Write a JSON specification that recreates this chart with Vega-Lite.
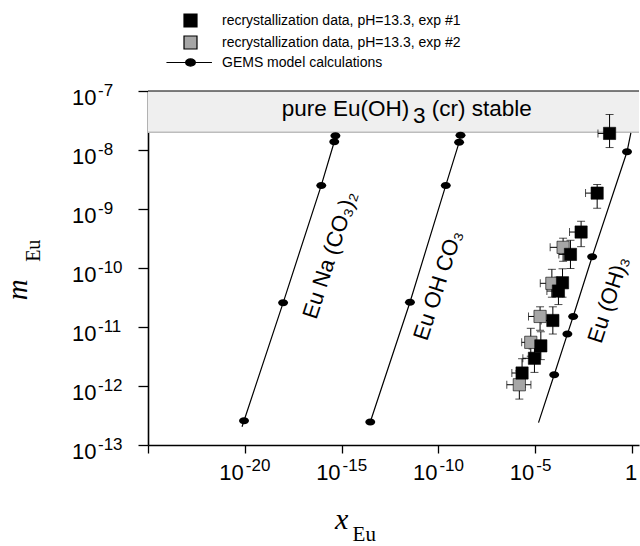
{
  "$schema": "https://vega.github.io/schema/vega-lite/v6.json",
  "width": 491,
  "height": 354,
  "autosize": "none",
  "padding": {"left": 148, "top": 91, "right": 1, "bottom": 101},
  "background": "white",
  "config": {
    "view": {"stroke": null},
    "font": "Liberation Sans",
    "axis": {"domainColor": "black", "domainWidth": 1.6, "tickColor": "black", "tickWidth": 1.3, "labels": false, "grid": false, "zindex": 1, "title": null},
    "axisX": {"tickSize": 8},
    "axisY": {"tickSize": 10}
  },
  "datasets": {
    "band": [{"lo": 2e-8, "hi": 1e-7}],
    "gemsLine": [
      {"phase": "Eu Na (CO3)2", "x": 7.2e-21, "y": 2.04e-13},
      {"phase": "Eu Na (CO3)2", "x": 9.1e-21, "y": 2.57e-13},
      {"phase": "Eu Na (CO3)2", "x": 9.5e-19, "y": 2.57e-11},
      {"phase": "Eu Na (CO3)2", "x": 8.9e-17, "y": 2.51e-9},
      {"phase": "Eu Na (CO3)2", "x": 4.17e-16, "y": 1.38e-8},
      {"phase": "Eu Na (CO3)2", "x": 4.79e-16, "y": 1.74e-8},
      {"phase": "Eu OH CO3", "x": 3.02e-14, "y": 2.45e-13},
      {"phase": "Eu OH CO3", "x": 3.39e-12, "y": 2.63e-11},
      {"phase": "Eu OH CO3", "x": 2.40e-10, "y": 2.51e-9},
      {"phase": "Eu OH CO3", "x": 1.17e-9, "y": 1.35e-8},
      {"phase": "Eu OH CO3", "x": 1.38e-9, "y": 1.78e-8},
      {"phase": "Eu (OH)3", "x": 1.48e-5, "y": 2.40e-13},
      {"phase": "Eu (OH)3", "x": 9.55e-5, "y": 1.55e-12},
      {"phase": "Eu (OH)3", "x": 4.57e-4, "y": 7.59e-12},
      {"phase": "Eu (OH)3", "x": 9.12e-4, "y": 1.51e-11},
      {"phase": "Eu (OH)3", "x": 8.71e-3, "y": 1.55e-10},
      {"phase": "Eu (OH)3", "x": 0.55, "y": 9.33e-9},
      {"phase": "Eu (OH)3", "x": 0.87, "y": 1.95e-8}
    ],
    "gemsDots": [
      {"phase": "Eu Na (CO3)2", "x": 9.1e-21, "y": 2.57e-13},
      {"phase": "Eu Na (CO3)2", "x": 9.5e-19, "y": 2.57e-11},
      {"phase": "Eu Na (CO3)2", "x": 8.9e-17, "y": 2.51e-9},
      {"phase": "Eu Na (CO3)2", "x": 4.17e-16, "y": 1.38e-8},
      {"phase": "Eu Na (CO3)2", "x": 4.79e-16, "y": 1.74e-8},
      {"phase": "Eu OH CO3", "x": 3.02e-14, "y": 2.45e-13},
      {"phase": "Eu OH CO3", "x": 3.39e-12, "y": 2.63e-11},
      {"phase": "Eu OH CO3", "x": 2.40e-10, "y": 2.51e-9},
      {"phase": "Eu OH CO3", "x": 1.17e-9, "y": 1.35e-8},
      {"phase": "Eu OH CO3", "x": 1.38e-9, "y": 1.78e-8},
      {"phase": "Eu (OH)3", "x": 9.55e-5, "y": 1.55e-12},
      {"phase": "Eu (OH)3", "x": 4.57e-4, "y": 7.59e-12},
      {"phase": "Eu (OH)3", "x": 9.12e-4, "y": 1.51e-11},
      {"phase": "Eu (OH)3", "x": 8.71e-3, "y": 1.55e-10},
      {"phase": "Eu (OH)3", "x": 0.55, "y": 9.33e-9}
    ],
    "exp": [
      {"series": "recrystallization data, pH=13.3, exp #2", "x": 2.75e-4, "y": 2.24e-10, "xlo": 5.9e-5, "xhi": 4.1e-4, "ylo": 1.3e-10, "yhi": 3.2e-10},
      {"series": "recrystallization data, pH=13.3, exp #2", "x": 7.24e-5, "y": 5.5e-11, "xlo": 1.82e-5, "xhi": 1.1e-4, "ylo": 3.2e-11, "yhi": 9.5e-11},
      {"series": "recrystallization data, pH=13.3, exp #2", "x": 1.78e-5, "y": 1.51e-11, "xlo": 4.5e-6, "xhi": 2.7e-5, "ylo": 8.8e-12, "yhi": 2.2e-11},
      {"series": "recrystallization data, pH=13.3, exp #2", "x": 5.89e-6, "y": 5.5e-12, "xlo": 2.0e-6, "xhi": 8.8e-6, "ylo": 3.2e-12, "yhi": 9.5e-12},
      {"series": "recrystallization data, pH=13.3, exp #2", "x": 1.51e-6, "y": 1.05e-12, "xlo": 3.4e-7, "xhi": 6.0e-6, "ylo": 6.0e-13, "yhi": 1.8e-12},
      {"series": "recrystallization data, pH=13.3, exp #1", "x": 0.0692, "y": 1.91e-8, "xlo": 0.0174, "xhi": 0.104, "ylo": 1.1e-8, "yhi": 4.0e-8},
      {"series": "recrystallization data, pH=13.3, exp #1", "x": 0.0158, "y": 1.86e-9, "xlo": 3.97e-3, "xhi": 0.0237, "ylo": 1.03e-9, "yhi": 2.6e-9},
      {"series": "recrystallization data, pH=13.3, exp #1", "x": 2.34e-3, "y": 4.07e-10, "xlo": 5.9e-4, "xhi": 3.5e-3, "ylo": 2.3e-10, "yhi": 6.2e-10},
      {"series": "recrystallization data, pH=13.3, exp #1", "x": 6.61e-4, "y": 1.70e-10, "xlo": 1.66e-4, "xhi": 9.9e-4, "ylo": 9.8e-11, "yhi": 2.95e-10},
      {"series": "recrystallization data, pH=13.3, exp #1", "x": 2.57e-4, "y": 5.62e-11, "xlo": 6.5e-5, "xhi": 3.9e-4, "ylo": 3.2e-11, "yhi": 9.7e-11},
      {"series": "recrystallization data, pH=13.3, exp #1", "x": 1.58e-4, "y": 4.07e-11, "xlo": 4.0e-5, "xhi": 2.4e-4, "ylo": 2.4e-11, "yhi": 7.0e-11},
      {"series": "recrystallization data, pH=13.3, exp #1", "x": 8.13e-5, "y": 1.29e-11, "xlo": 2.04e-5, "xhi": 1.2e-4, "ylo": 7.6e-12, "yhi": 2.2e-11},
      {"series": "recrystallization data, pH=13.3, exp #1", "x": 1.95e-5, "y": 4.79e-12, "xlo": 4.9e-6, "xhi": 2.9e-5, "ylo": 2.8e-12, "yhi": 8.3e-12},
      {"series": "recrystallization data, pH=13.3, exp #1", "x": 9.12e-6, "y": 2.95e-12, "xlo": 2.3e-6, "xhi": 1.4e-5, "ylo": 1.7e-12, "yhi": 5.1e-12},
      {"series": "recrystallization data, pH=13.3, exp #1", "x": 2.09e-6, "y": 1.66e-12, "xlo": 6.2e-7, "xhi": 3.1e-6, "ylo": 9.6e-13, "yhi": 2.9e-12}
    ],
    "lineLabels": [
      {"label": "Eu Na (CO₃)₂", "x": 2.5e-16, "y": 1.66e-10},
      {"label": "Eu OH CO₃", "x": 9.5e-11, "y": 5.1e-11},
      {"label": "Eu (OH)₃", "x": 0.06, "y": 2.9e-11}
    ],
    "bandLabel": [
      {"label": "pure Eu(OH)", "x": 8e-19, "y": 3.84e-8},
      {"label": "3", "x": 4.9e-12, "y": 2.88e-8},
      {"label": "(cr) stable", "x": 4.5e-11, "y": 3.84e-8}
    ],
    "xticks": [
      {"v": 1e-20, "b": "10", "e": "-20"},
      {"v": 1e-15, "b": "10", "e": "-15"},
      {"v": 1e-10, "b": "10", "e": "-10"},
      {"v": 1e-5, "b": "10", "e": "-5"},
      {"v": 1, "b": "1", "e": ""}
    ],
    "yticks": [
      {"v": 1e-7, "e": "-7"},
      {"v": 1e-8, "e": "-8"},
      {"v": 1e-9, "e": "-9"},
      {"v": 1e-10, "e": "-10"},
      {"v": 1e-11, "e": "-11"},
      {"v": 1e-12, "e": "-12"},
      {"v": 1e-13, "e": "-13"}
    ]
  },
  "layer": [
    {
      "data": {"name": "band"},
      "mark": {"type": "rect", "fill": "#efefef"},
      "encoding": {
        "y": {"field": "lo", "type": "quantitative", "title": null, "scale": {"type": "log", "domain": [1e-13, 1e-7], "nice": false}, "axis": {"values": [1e-13, 1e-12, 1e-11, 1e-10, 1e-9, 1e-8, 1e-7]}},
        "y2": {"field": "hi"}
      }
    },
    {
      "data": {"name": "band"},
      "mark": {"type": "rule", "color": "#bdbdbd", "strokeWidth": 1.5},
      "encoding": {
        "y": {"field": "lo", "type": "quantitative", "title": null, "scale": {"type": "log", "domain": [1e-13, 1e-7], "nice": false}, "axis": {"values": [1e-13, 1e-12, 1e-11, 1e-10, 1e-9, 1e-8, 1e-7]}}
      }
    },
    {
      "data": {"name": "band"},
      "mark": {"type": "rule", "color": "black", "strokeWidth": 1.2},
      "encoding": {
        "y": {"field": "hi", "type": "quantitative", "title": null, "scale": {"type": "log", "domain": [1e-13, 1e-7], "nice": false}, "axis": {"values": [1e-13, 1e-12, 1e-11, 1e-10, 1e-9, 1e-8, 1e-7]}}
      }
    },
    {
      "data": {"name": "gemsLine"},
      "mark": {"type": "line", "color": "black", "strokeWidth": 1.2},
      "encoding": {
        "x": {"field": "x", "type": "quantitative", "title": null, "scale": {"type": "log", "domain": [1e-25, 2.29], "nice": false}, "axis": {"values": [1e-25, 1e-20, 1e-15, 1e-10, 1e-5, 1]}},
        "y": {"field": "y", "type": "quantitative", "title": null, "scale": {"type": "log", "domain": [1e-13, 1e-7], "nice": false}, "axis": {"values": [1e-13, 1e-12, 1e-11, 1e-10, 1e-9, 1e-8, 1e-7]}},
        "detail": {"field": "phase"}
      }
    },
    {
      "data": {"name": "gemsDots"},
      "mark": {"type": "point", "shape": "M-1,0A1,0.7,0,1,0,1,0A1,0.7,0,1,0,-1,0Z", "filled": true, "color": "black", "opacity": 1, "size": 100},
      "encoding": {
        "x": {"field": "x", "type": "quantitative", "title": null, "scale": {"type": "log", "domain": [1e-25, 2.29], "nice": false}, "axis": {"values": [1e-25, 1e-20, 1e-15, 1e-10, 1e-5, 1]}},
        "y": {"field": "y", "type": "quantitative", "title": null, "scale": {"type": "log", "domain": [1e-13, 1e-7], "nice": false}, "axis": {"values": [1e-13, 1e-12, 1e-11, 1e-10, 1e-9, 1e-8, 1e-7]}}
      }
    },
    {
      "data": {"name": "exp"},
      "mark": {"type": "errorbar", "ticks": {"size": 8}, "color": "black"},
      "encoding": {
        "x": {"field": "xlo", "type": "quantitative", "title": null, "scale": {"type": "log", "domain": [1e-25, 2.29], "nice": false}, "axis": {"values": [1e-25, 1e-20, 1e-15, 1e-10, 1e-5, 1], "title": null}},
        "x2": {"field": "xhi"},
        "y": {"field": "y", "type": "quantitative", "title": null, "scale": {"type": "log", "domain": [1e-13, 1e-7], "nice": false}, "axis": {"values": [1e-13, 1e-12, 1e-11, 1e-10, 1e-9, 1e-8, 1e-7], "title": null}}
      }
    },
    {
      "data": {"name": "exp"},
      "mark": {"type": "errorbar", "ticks": {"size": 8}, "color": "black"},
      "encoding": {
        "y": {"field": "ylo", "type": "quantitative", "title": null, "scale": {"type": "log", "domain": [1e-13, 1e-7], "nice": false}, "axis": {"values": [1e-13, 1e-12, 1e-11, 1e-10, 1e-9, 1e-8, 1e-7], "title": null}},
        "y2": {"field": "yhi"},
        "x": {"field": "x", "type": "quantitative", "title": null, "scale": {"type": "log", "domain": [1e-25, 2.29], "nice": false}, "axis": {"values": [1e-25, 1e-20, 1e-15, 1e-10, 1e-5, 1], "title": null}}
      }
    },
    {
      "data": {"name": "exp"},
      "mark": {"type": "point", "filled": true, "opacity": 1, "size": 150, "stroke": "black", "strokeWidth": 0.6},
      "encoding": {
        "x": {"field": "x", "type": "quantitative", "title": null, "scale": {"type": "log", "domain": [1e-25, 2.29], "nice": false}, "axis": {"values": [1e-25, 1e-20, 1e-15, 1e-10, 1e-5, 1]}},
        "y": {"field": "y", "type": "quantitative", "title": null, "scale": {"type": "log", "domain": [1e-13, 1e-7], "nice": false}, "axis": {"values": [1e-13, 1e-12, 1e-11, 1e-10, 1e-9, 1e-8, 1e-7]}},
        "color": {
          "field": "series", "type": "nominal",
          "scale": {"domain": ["recrystallization data, pH=13.3, exp #1", "recrystallization data, pH=13.3, exp #2", "GEMS model calculations"], "range": ["#000000", "#a6a6a6", "#000000"]},
          "legend": {"title": null, "orient": "none", "legendX": 35, "legendY": -78, "padding": 0, "symbolSize": 169, "symbolStrokeColor": "black", "symbolStrokeWidth": 1.2, "labelFont": "Liberation Sans", "labelFontSize": 14, "labelColor": "black", "labelOffset": 24, "rowPadding": 3, "labelLimit": 400}
        },
        "shape": {
          "field": "series", "type": "nominal",
          "scale": {"domain": ["recrystallization data, pH=13.3, exp #1", "recrystallization data, pH=13.3, exp #2", "GEMS model calculations"], "range": ["square", "square", "M-3.7,0H3.3M-0.75,0A0.75,0.55,0,1,0,0.75,0A0.75,0.55,0,1,0,-0.75,0Z"]},
          "legend": {"title": null, "orient": "none", "legendX": 35, "legendY": -78, "padding": 0, "symbolSize": 169, "symbolStrokeColor": "black", "symbolStrokeWidth": 1.2, "labelFont": "Liberation Sans", "labelFontSize": 14, "labelColor": "black", "labelOffset": 24, "rowPadding": 3, "labelLimit": 400}
        }
      }
    },
    {
      "data": {"name": "lineLabels"},
      "mark": {"type": "text", "angle": 288, "align": "center", "baseline": "middle", "fontSize": 22, "font": "Liberation Sans", "color": "black"},
      "encoding": {
        "x": {"field": "x", "type": "quantitative", "title": null, "scale": {"type": "log", "domain": [1e-25, 2.29], "nice": false}, "axis": {"values": [1e-25, 1e-20, 1e-15, 1e-10, 1e-5, 1]}},
        "y": {"field": "y", "type": "quantitative", "title": null, "scale": {"type": "log", "domain": [1e-13, 1e-7], "nice": false}, "axis": {"values": [1e-13, 1e-12, 1e-11, 1e-10, 1e-9, 1e-8, 1e-7]}},
        "text": {"field": "label"}
      }
    },
    {
      "data": {"name": "bandLabel"},
      "mark": {"type": "text", "align": "left", "baseline": "alphabetic", "fontSize": 22.5, "font": "Liberation Sans", "color": "black"},
      "encoding": {
        "x": {"field": "x", "type": "quantitative", "title": null, "scale": {"type": "log", "domain": [1e-25, 2.29], "nice": false}, "axis": {"values": [1e-25, 1e-20, 1e-15, 1e-10, 1e-5, 1]}},
        "y": {"field": "y", "type": "quantitative", "title": null, "scale": {"type": "log", "domain": [1e-13, 1e-7], "nice": false}, "axis": {"values": [1e-13, 1e-12, 1e-11, 1e-10, 1e-9, 1e-8, 1e-7]}},
        "text": {"field": "label"}
      }
    },
    {
      "data": {"name": "xticks"},
      "transform": [{"filter": "datum.b == '10'"}],
      "mark": {"type": "text", "align": "right", "baseline": "alphabetic", "dx": -1, "dy": 35, "fontSize": 22, "font": "Liberation Sans", "color": "black"},
      "encoding": {
        "x": {"field": "v", "type": "quantitative", "title": null, "scale": {"type": "log", "domain": [1e-25, 2.29], "nice": false}, "axis": {"values": [1e-25, 1e-20, 1e-15, 1e-10, 1e-5, 1]}},
        "y": {"datum": 1e-13, "type": "quantitative", "title": null, "scale": {"type": "log", "domain": [1e-13, 1e-7], "nice": false}, "axis": {"values": [1e-13, 1e-12, 1e-11, 1e-10, 1e-9, 1e-8, 1e-7]}},
        "text": {"field": "b"}
      }
    },
    {
      "data": {"name": "xticks"},
      "transform": [{"filter": "datum.b == '1'"}],
      "mark": {"type": "text", "align": "center", "baseline": "alphabetic", "dx": -1, "dy": 35, "fontSize": 22, "font": "Liberation Sans", "color": "black"},
      "encoding": {
        "x": {"field": "v", "type": "quantitative", "title": null, "scale": {"type": "log", "domain": [1e-25, 2.29], "nice": false}, "axis": {"values": [1e-25, 1e-20, 1e-15, 1e-10, 1e-5, 1]}},
        "y": {"datum": 1e-13, "type": "quantitative", "title": null, "scale": {"type": "log", "domain": [1e-13, 1e-7], "nice": false}, "axis": {"values": [1e-13, 1e-12, 1e-11, 1e-10, 1e-9, 1e-8, 1e-7]}},
        "text": {"field": "b"}
      }
    },
    {
      "data": {"name": "xticks"},
      "mark": {"type": "text", "align": "left", "baseline": "alphabetic", "dx": 1, "dy": 26, "fontSize": 17, "font": "Liberation Sans", "color": "black"},
      "encoding": {
        "x": {"field": "v", "type": "quantitative", "title": null, "scale": {"type": "log", "domain": [1e-25, 2.29], "nice": false}, "axis": {"values": [1e-25, 1e-20, 1e-15, 1e-10, 1e-5, 1]}},
        "y": {"datum": 1e-13, "type": "quantitative", "title": null, "scale": {"type": "log", "domain": [1e-13, 1e-7], "nice": false}, "axis": {"values": [1e-13, 1e-12, 1e-11, 1e-10, 1e-9, 1e-8, 1e-7]}},
        "text": {"field": "e"}
      }
    },
    {
      "data": {"name": "yticks"},
      "mark": {"type": "text", "align": "left", "baseline": "alphabetic", "dx": -76, "dy": 14, "fontSize": 22, "font": "Liberation Sans", "color": "black"},
      "encoding": {
        "x": {"datum": 1e-25, "type": "quantitative", "title": null, "scale": {"type": "log", "domain": [1e-25, 2.29], "nice": false}, "axis": {"values": [1e-25, 1e-20, 1e-15, 1e-10, 1e-5, 1]}},
        "y": {"field": "v", "type": "quantitative", "title": null, "scale": {"type": "log", "domain": [1e-13, 1e-7], "nice": false}, "axis": {"values": [1e-13, 1e-12, 1e-11, 1e-10, 1e-9, 1e-8, 1e-7]}},
        "text": {"value": "10"}
      }
    },
    {
      "data": {"name": "yticks"},
      "mark": {"type": "text", "align": "left", "baseline": "alphabetic", "dx": -50, "dy": 5, "fontSize": 17, "font": "Liberation Sans", "color": "black"},
      "encoding": {
        "x": {"datum": 1e-25, "type": "quantitative", "title": null, "scale": {"type": "log", "domain": [1e-25, 2.29], "nice": false}, "axis": {"values": [1e-25, 1e-20, 1e-15, 1e-10, 1e-5, 1]}},
        "y": {"field": "v", "type": "quantitative", "title": null, "scale": {"type": "log", "domain": [1e-13, 1e-7], "nice": false}, "axis": {"values": [1e-13, 1e-12, 1e-11, 1e-10, 1e-9, 1e-8, 1e-7]}},
        "text": {"field": "e"}
      }
    },
    {
      "data": {"values": [{"t": "x", "v": 1e-15}]},
      "mark": {"type": "text", "align": "center", "baseline": "alphabetic", "dy": 84, "fontSize": 30, "font": "Liberation Serif", "fontStyle": "italic", "color": "black"},
      "encoding": {
        "x": {"field": "v", "type": "quantitative", "title": null, "scale": {"type": "log", "domain": [1e-25, 2.29], "nice": false}, "axis": {"values": [1e-25, 1e-20, 1e-15, 1e-10, 1e-5, 1]}},
        "y": {"datum": 1e-13, "type": "quantitative", "title": null, "scale": {"type": "log", "domain": [1e-13, 1e-7], "nice": false}, "axis": {"values": [1e-13, 1e-12, 1e-11, 1e-10, 1e-9, 1e-8, 1e-7]}},
        "text": {"field": "t"}
      }
    },
    {
      "data": {"values": [{"t": "Eu", "v": 1e-15}]},
      "mark": {"type": "text", "align": "left", "baseline": "alphabetic", "dx": 11, "dy": 96, "fontSize": 21, "font": "Liberation Serif", "color": "black"},
      "encoding": {
        "x": {"field": "v", "type": "quantitative", "title": null, "scale": {"type": "log", "domain": [1e-25, 2.29], "nice": false}, "axis": {"values": [1e-25, 1e-20, 1e-15, 1e-10, 1e-5, 1]}},
        "y": {"datum": 1e-13, "type": "quantitative", "title": null, "scale": {"type": "log", "domain": [1e-13, 1e-7], "nice": false}, "axis": {"values": [1e-13, 1e-12, 1e-11, 1e-10, 1e-9, 1e-8, 1e-7]}},
        "text": {"field": "t"}
      }
    },
    {
      "data": {"values": [{"t": "m", "v": 4.27e-11}]},
      "mark": {"type": "text", "angle": 270, "align": "center", "baseline": "alphabetic", "dy": -121, "fontSize": 29, "font": "Liberation Serif", "fontStyle": "italic", "color": "black"},
      "encoding": {
        "x": {"datum": 1e-25, "type": "quantitative", "title": null, "scale": {"type": "log", "domain": [1e-25, 2.29], "nice": false}, "axis": {"values": [1e-25, 1e-20, 1e-15, 1e-10, 1e-5, 1]}},
        "y": {"field": "v", "type": "quantitative", "title": null, "scale": {"type": "log", "domain": [1e-13, 1e-7], "nice": false}, "axis": {"values": [1e-13, 1e-12, 1e-11, 1e-10, 1e-9, 1e-8, 1e-7]}},
        "text": {"field": "t"}
      }
    },
    {
      "data": {"values": [{"t": "Eu", "v": 1.96e-10}]},
      "mark": {"type": "text", "angle": 270, "align": "center", "baseline": "alphabetic", "dy": -108, "fontSize": 20, "font": "Liberation Serif", "color": "black"},
      "encoding": {
        "x": {"datum": 1e-25, "type": "quantitative", "title": null, "scale": {"type": "log", "domain": [1e-25, 2.29], "nice": false}, "axis": {"values": [1e-25, 1e-20, 1e-15, 1e-10, 1e-5, 1]}},
        "y": {"field": "v", "type": "quantitative", "title": null, "scale": {"type": "log", "domain": [1e-13, 1e-7], "nice": false}, "axis": {"values": [1e-13, 1e-12, 1e-11, 1e-10, 1e-9, 1e-8, 1e-7]}},
        "text": {"field": "t"}
      }
    }
  ]
}
